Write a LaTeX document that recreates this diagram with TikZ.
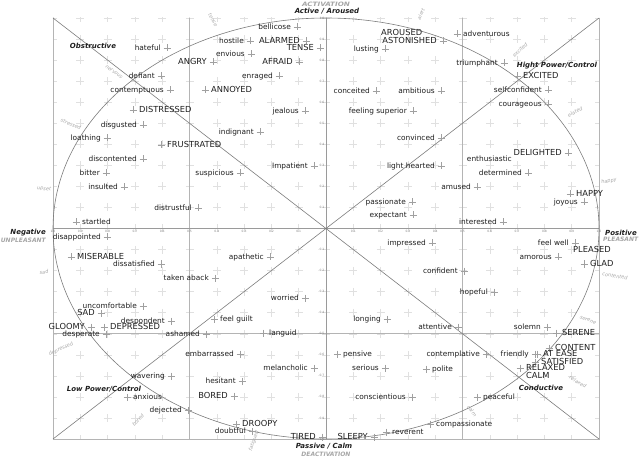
\documentclass[tikz,border=0pt]{standalone}
\usepackage{fontspec}
\setmainfont{DejaVu Sans}
\definecolor{ink}{HTML}{1E1E1E}
\definecolor{axc}{HTML}{9A9A9A}
\definecolor{frm}{HTML}{B4B4B4}
\definecolor{crv}{HTML}{7C7C7C}
\definecolor{grd}{HTML}{E0E0E0}
\definecolor{crs}{HTML}{A0A0A0}
\definecolor{lbl}{HTML}{A6A6A6}
\begin{document}
\begin{tikzpicture}[x=1pt,y=-1pt,
  wbase/.style={inner sep=0pt, text=ink, text height=0.72em, text depth=0.2em},
  lw/.style={wbase, font=\fontsize{7.4}{8}\selectfont},
  uw/.style={wbase, font=\fontsize{8.3}{9}\selectfont},
  crossmark/.style={draw=crs, line width=0.45pt},
  gridc/.style={draw=grd, line width=0.5pt},
  frameline/.style={draw=frm, line width=0.6pt},
  axisline/.style={draw=axc, line width=1pt},
  curveline/.style={draw=crv, line width=0.6pt},
  tick/.style={inner sep=0pt, font=\fontsize{3}{3}\selectfont, text=gray},
  bi/.style={inner sep=0pt, text=ink, font=\fontsize{7}{8}\selectfont\bfseries\itshape},
  capg/.style={inner sep=0pt, text=lbl, font=\fontsize{6}{6}\selectfont\bfseries\itshape},
  circ/.style={inner sep=0pt, text=lbl, font=\fontsize{5}{6}\selectfont\itshape}]
\useasboundingbox (0,0) rectangle (640,457);
\coordinate (O) at (326,228.5);
\coordinate (TL) at (53,18);
\coordinate (TR) at (599,18);
\coordinate (BL) at (53,439);
\coordinate (BR) at (599,439);
\coordinate (AL) at (53,228.5);
\coordinate (AR) at (599,228.5);
\coordinate (AT) at (326,18);
\coordinate (AB) at (326,439);
% grid crosses
\begin{scope}
\clip (TL) rectangle (BR);
\foreach \i in {-10,...,10}{\foreach \j in {-10,...,10}{
  \pgfmathsetmacro\gx{326+27.3*\i}\pgfmathsetmacro\gy{228.5+21.05*\j}
  \draw[gridc] (\gx,\gy) +(-4,0) -- +(4,0) +(0,-4) -- +(0,4);
}}
\end{scope}
% frame and half lines
\draw[frameline] (TL) -- (BL) -- (BR) -- (TR);
\coordinate (VLt) at (189.5,18); \coordinate (VLb) at (189.5,439);
\coordinate (VRt) at (462.5,18); \coordinate (VRb) at (462.5,439);
\coordinate (HBl) at (53,333.7); \coordinate (HBr) at (599,333.7);
\draw[frameline] (VLt) -- (VLb) (VRt) -- (VRb) (HBl) -- (HBr);
% axes
\draw[axisline] (AL) -- (AR) (AT) -- (AB);
% diagonals and ellipse
\draw[curveline] (TL) -- (BR) (BL) -- (TR);
\draw[curveline] (O) ellipse [x radius=273pt, y radius=210.5pt];
% tick labels
\foreach \k in {1,...,10}{
  \pgfmathsetmacro\pxr{326+27.3*\k}\pgfmathsetmacro\pxl{326-27.3*\k}
  \pgfmathsetmacro\pyu{228.5-21.05*\k}\pgfmathsetmacro\pyd{228.5+21.05*\k}
  \node[tick, anchor=north] (tr\k) at (\pxr,229.8) {\ifnum\k=10 1.0\else 0.\k\fi};
  \node[tick, anchor=north] (tl\k) at (\pxl,229.8) {\ifnum\k=10 1.0\else 0.\k\fi};
  \node[tick, anchor=east] (tu\k) at (324.5,\pyu) {\ifnum\k=10 1.0\else 0.\k\fi};
  \node[tick, anchor=east] (td\k) at (324.5,\pyd) {\ifnum\k=10 -1.0\else -0.\k\fi};
}
% lowercase words, text left of cross
\foreach \x/\y/\t [count=\i] in {167/48/hateful, 161/76/defiant, 170/90/contemptuous, 143/125/disgusted, 107/138/loathing, 143/159/discontented, 106/173/bitter, 124/187/insulted, 198/208/distrustful, 107/237/disappointed, 161/264/dissatisfied, 215/278/taken aback, 143/306/uncomfortable, 171/321/despondent, 106/334/desperate, 206/334/ashamed, 240/354/embarrassed, 171/376/wavering, 242/381/hesitant, 188/410/dejected, 252/431/doubtful, 297/27/bellicose, 250/41/hostile, 251/54/envious, 279/76/enraged, 305/111/jealous, 260/132/indignant, 240/173/suspicious, 314/166/Impatient, 270/257/apathetic, 305/298/worried, 314/368/melancholic, 385/49/lusting, 376/91/conceited, 441/91/ambitious, 413/111/feeling superior, 441/138/convinced, 441/166/light hearted, 412/202/passionate, 413/215/expectant, 432/243/impressed, 387/319/longing, 385/368/serious, 412/397/conscientious, 504/63/triumphant, 548/90/selfconfident, 548/104/courageous, 528/173/determined, 477/187/amused, 584/202/joyous, 503/222/interested, 575/243/feel well, 558/257/amorous, 464/271/confident, 494/292/hopeful, 458/327/attentive, 547/327/solemn, 486/354/contemplative, 535/354/friendly}{
  \coordinate (pa\i) at (\x,\y);
  \draw[crossmark] (pa\i) +(-3.5,0) -- +(3.5,0) +(0,-3.5) -- +(0,3.5);
  \node[lw, anchor=east] (wa\i) at ([xshift=-6pt]pa\i) {\t};
}
% uppercase words, text left of cross
\foreach \x/\y/\t [count=\i] in {213/62/ANGRY, 101/313/SAD, 91/327/GLOOMY, 234/396/BORED, 306/41/ALARMED, 320/48/TENSE, 299/62/AFRAID, 443/41/ASTONISHED, 568/153/DELIGHTED, 322/437/TIRED, 374/437/SLEEPY}{
  \coordinate (pb\i) at (\x,\y);
  \draw[crossmark] (pb\i) +(-3.5,0) -- +(3.5,0) +(0,-3.5) -- +(0,3.5);
  \node[uw, anchor=east] (wb\i) at ([xshift=-6pt]pb\i) {\t};
}
% lowercase words, text right of cross
\foreach \x/\y/\t [count=\i] in {76/222/startled, 214/319/feel guilt, 263/333/languid, 127/397/anxious, 457/34/adventurous, 337/354/pensive, 386/432/reverent, 430/424/compassionate, 477/397/peaceful, 426/369/polite}{
  \coordinate (pc\i) at (\x,\y);
  \draw[crossmark] (pc\i) +(-3.5,0) -- +(3.5,0) +(0,-3.5) -- +(0,3.5);
  \node[lw, anchor=west] (wc\i) at ([xshift=6pt]pc\i) {\t};
}
% uppercase words, text right of cross
\foreach \x/\y/\t [count=\i] in {205/90/ANNOYED, 133/110/DISTRESSED, 161/145/FRUSTRATED, 71/257/MISERABLE, 104/327/DEPRESSED, 236/424/DROOPY, 517/76/EXCITED, 570/194/HAPPY, 584/264/GLAD, 556/333/SERENE, 549/348/CONTENT, 537/354/AT EASE, 535/362/SATISFIED, 520/368/RELAXED}{
  \coordinate (pd\i) at (\x,\y);
  \draw[crossmark] (pd\i) +(-3.5,0) -- +(3.5,0) +(0,-3.5) -- +(0,3.5);
  \node[uw, anchor=west] (wd\i) at ([xshift=6pt]pd\i) {\t};
}
% words without a visible cross
\node[uw, anchor=west] (aroused) at (381,33) {AROUSED};
\node[uw, anchor=west] (calm) at (526,375.5) {CALM};
\node[uw, anchor=west] (pleased) at (573,250) {PLEASED};
\node[lw, anchor=east] (enth) at (512,159) {enthusiastic};
% quadrant and axis labels
\node[bi] (obs) at (93,46) {Obstructive};
\node[bi] (hpc) at (557,66) {Hight Power/Control};
\node[bi] (lpc) at (104,389) {Low Power/Control};
\node[bi] (cond) at (541,388) {Conductive};
\node[capg] (act) at (326,4) {\scalebox{1.2}[1]{ACTIVATION}};
\node[bi] (aa) at (327,11.5) {Active / Aroused};
\node[bi] (pc) at (324,446) {Passive / Calm};
\node[capg] (deact) at (326,454) {DEACTIVATION};
\node[bi, anchor=east] (neg) at (46,233) {Negative};
\node[capg, anchor=east] (unp) at (46,240) {UNPLEASANT};
\node[bi, anchor=west] (pos) at (605,233) {Positive};
\node[capg, anchor=west] (ple) at (603,239) {PLEASANT};
% circumplex labels
\node[circ, rotate=-62] (c1) at (213,20) {tense};
\node[circ, rotate=66] (c2) at (421,14) {alert};
\node[circ, rotate=43] (c3) at (520,50) {excited};
\node[circ, rotate=27] (c4) at (575,112) {elated};
\node[circ, rotate=9] (c5) at (609,181) {happy};
\node[circ, rotate=-9] (c6) at (615,276) {contented};
\node[circ, rotate=-22] (c7) at (588,320) {serene};
\node[circ, rotate=-31] (c8) at (578,382) {relaxed};
\node[circ, rotate=-52] (c9) at (472,411) {calm};
\node[circ, rotate=71] (c10) at (254,441) {fatigued};
\node[circ, rotate=46] (c11) at (138,420) {bored};
\node[circ, rotate=24] (c12) at (61,349) {depressed};
\node[circ, rotate=9] (c13) at (44,272) {sad};
\node[circ, rotate=-8] (c14) at (44,189) {upset};
\node[circ, rotate=-22] (c15) at (71,124) {stressed};
\node[circ, rotate=-36] (c16) at (114,72) {nervous};
\end{tikzpicture}
\end{document}
